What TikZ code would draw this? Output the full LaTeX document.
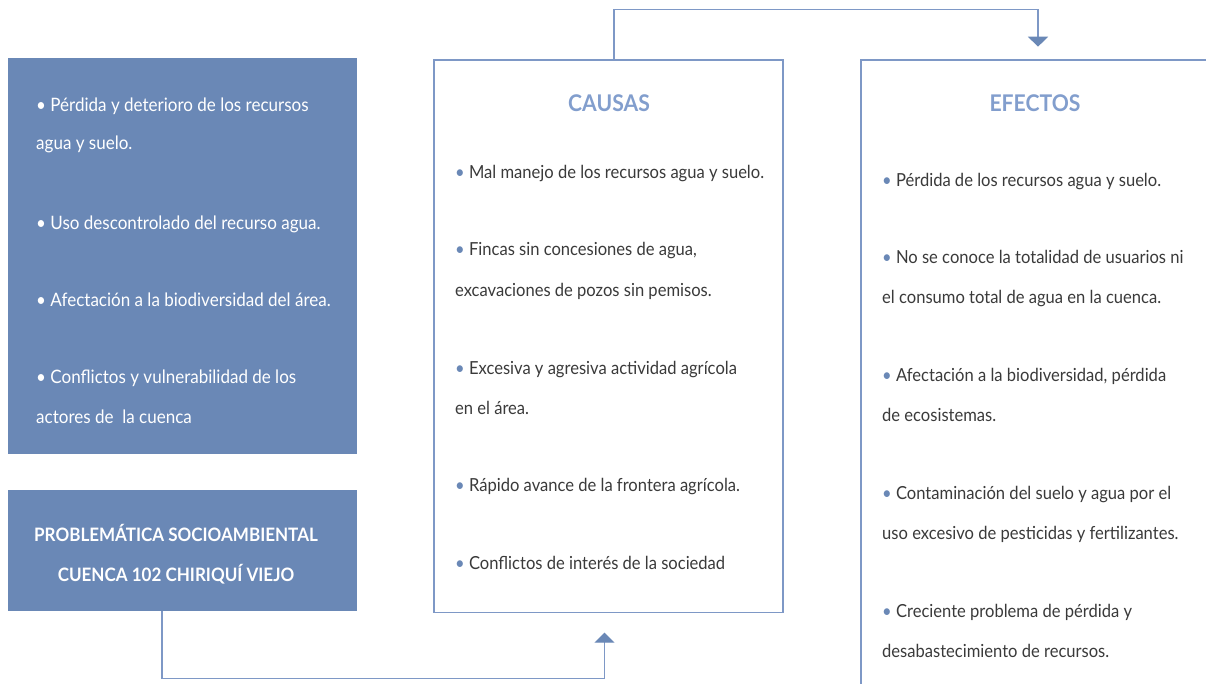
\documentclass[tikz,border=0pt]{standalone}
\usepackage{fontspec}
\setmainfont{Lato}[FakeStretch=0.92]
\usetikzlibrary{arrows.meta}
\definecolor{boxblue}{HTML}{6A88B6}
\definecolor{edgeblue}{HTML}{7E98C6}
\definecolor{titleblue}{HTML}{829ECD}
\definecolor{txtgray}{HTML}{3A3A3A}
\newcommand\wb{{\color{white}•}\ }
\newcommand\bb{{\color{boxblue}•}\ }
\begin{document}
\begin{tikzpicture}[x=1pt,y=-1pt,
  fillbox/.style={fill=boxblue,draw=none,minimum width=349pt,inner sep=0},
  linebox/.style={draw=edgeblue,line width=1.3pt,inner sep=0},
  conn/.style={draw=edgeblue,line width=1.3pt},
  tip/.style={-{Triangle[width=20pt,length=10pt,fill=boxblue,color=boxblue]}},
  wtxt/.style={anchor=base west,inner sep=0,text=white,font=\fontsize{18.5}{22}\selectfont},
  gtxt/.style={anchor=base west,inner sep=0,text=txtgray,font=\fontsize{18}{22}\selectfont},
  ttl/.style={anchor=base,inner sep=0,text=titleblue,font=\bfseries\fontsize{23}{27}\selectfont},
  ptl/.style={anchor=base,inner sep=0,text=white,font=\bfseries\fontsize{18.5}{22}\selectfont}]
\useasboundingbox (0,0) rectangle (1206,684);
% boxes
\node[fillbox,minimum height=396pt] (list) at (182.5,256) {};
\node[fillbox,minimum height=120.5pt] (prob) at (182.5,550.25) {};
\node[linebox,minimum width=349pt,minimum height=552.5pt] (causas) at (608.5,336.25) {};
\draw[edgeblue,line width=1.3pt] (1215,60) -- (861,60) -- (861,700);
\coordinate (efectos) at (1038,60);
% connectors
\coordinate (ctop) at (614,60);
\coordinate (etip) at (1038,46.7);
\coordinate (pbot) at (162,610.5);
\coordinate (ctip) at (604.5,632.7);
\draw[conn,tip] (ctop) -- (614,9.3) -| (etip);
\draw[conn,tip] (pbot) -- (162,678.3) -| (ctip);
% left list
\node[wtxt] (l1) at (36,111.7) {\wb Pérdida y deterioro de los recursos};
\node[wtxt] (l2) at (36,150) {agua y suelo.};
\node[wtxt] (l3) at (36,230) {\wb Uso descontrolado del recurso agua.};
\node[wtxt] (l4) at (36,306.7) {\wb Afectación a la biodiversidad del área.};
\node[wtxt] (l5) at (36,383.3) {\wb Conflictos y vulnerabilidad de los};
\node[wtxt] (l6) at (36,423.3) {actores de\ \ la cuenca};
% problem title
\node[ptl] (p1) at (176,541.7) {PROBLEMÁTICA SOCIOAMBIENTAL};
\node[ptl] (p2) at (176,581) {CUENCA 102 CHIRIQUÍ VIEJO};
% causas
\node[ttl] (ct) at (609,111.7) {CAUSAS};
\node[gtxt] (c1) at (455,178.3) {\bb Mal manejo de los recursos agua y suelo.};
\node[gtxt] (c2) at (455,256) {\bb Fincas sin concesiones de agua,};
\node[gtxt] (c3) at (455,296.7) {excavaciones de pozos sin pemisos.};
\node[gtxt] (c4) at (455,374) {\bb Excesiva y agresiva actividad agrícola};
\node[gtxt] (c5) at (455,414) {en el área.};
\node[gtxt] (c6) at (455,491.7) {\bb Rápido avance de la frontera agrícola.};
\node[gtxt] (c7) at (455,569) {\bb Conflictos de interés de la sociedad};
% efectos
\node[ttl] (et) at (1035,111.7) {EFECTOS};
\node[gtxt] (e1) at (882,186.5) {\bb Pérdida de los recursos agua y suelo.};
\node[gtxt] (e2) at (882,264) {\bb No se conoce la totalidad de usuarios ni};
\node[gtxt] (e3) at (882,304) {el consumo total de agua en la cuenca.};
\node[gtxt] (e4) at (882,381.5) {\bb Afectación a la biodiversidad, pérdida};
\node[gtxt] (e5) at (882,421.5) {de ecosistemas.};
\node[gtxt] (e6) at (882,499.3) {\bb Contaminación del suelo y agua por el};
\node[gtxt] (e7) at (882,539.3) {uso excesivo de pesticidas y fertilizantes.};
\node[gtxt] (e8) at (882,617) {\bb Creciente problema de pérdida y};
\node[gtxt] (e9) at (882,657) {desabastecimiento de recursos.};
\end{tikzpicture}
\end{document}
